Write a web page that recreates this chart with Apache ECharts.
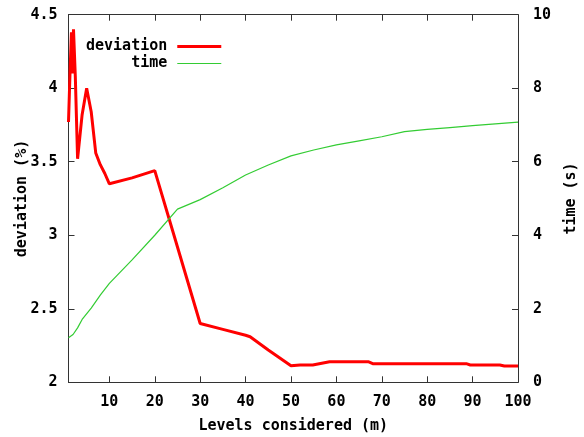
<!DOCTYPE html>
<html>
<head>
<meta charset="utf-8">
<script src="https://cdn.jsdelivr.net/npm/echarts@6/dist/echarts.min.js"></script>
<style>html,body{margin:0;padding:0;background:#fff;}#c{width:584px;height:437px;}</style>
</head>
<body>
<div id="c"></div>
<script>
// Deviation (%) vs levels considered
var devN   = [1, 1.35, 1.65, 1.85, 2.1, 2.5, 3, 4, 5, 6, 7, 8, 9, 10, 15, 20, 25, 30, 35, 40, 41, 45, 50, 52, 54.8, 58.5, 67, 68, 88.6, 89.5, 96, 97, 100];
var devVal = [3.77, 4.12, 4.38, 4.1, 4.40, 4.08, 3.52, 3.82, 4.0, 3.84, 3.56, 3.48, 3.42, 3.35, 3.39, 3.44, 2.92, 2.40, 2.36, 2.32, 2.31, 2.22, 2.113, 2.118, 2.118, 2.14, 2.14, 2.127, 2.127, 2.118, 2.118, 2.111, 2.111];
// Time (s) vs levels considered
var timeN   = [1, 2, 3, 4, 6, 8, 10, 15, 20, 25, 30, 35, 40, 45, 50, 55, 60, 65, 70, 75, 80, 85, 90, 95, 100];
var timeVal = [1.21, 1.3, 1.48, 1.71, 2.02, 2.37, 2.69, 3.33, 4.0, 4.71, 4.97, 5.29, 5.64, 5.91, 6.16, 6.32, 6.46, 6.57, 6.68, 6.82, 6.88, 6.93, 6.98, 7.03, 7.08];
// Tick labels
var xTicks = [10, 20, 30, 40, 50, 60, 70, 80, 90, 100];
var seriesNames = ['deviation', 'time'];

function pairs(xs, ys) { return xs.map(function (x, i) { return [x, ys[i]]; }); }

var FONT = 'DejaVu Sans Mono';
var lab = { fontFamily: FONT, fontWeight: 'bold', fontSize: 15, color: '#000' };
var axLine = { show: true, lineStyle: { color: '#333', width: 1 } };

var chart = echarts.init(document.getElementById('c'), null, { renderer: 'canvas' });
chart.setOption({
  animation: false,
  backgroundColor: '#fff',
  grid: { left: 68.5, right: 66, top: 14.7, bottom: 54.7, containLabel: false, outerBoundsMode: 'none' },
  legend: {
    data: [
      { name: seriesNames[0], icon: 'path://M0,0 L44,0 L44,3 L0,3 Z' },
      { name: seriesNames[1], icon: 'path://M0,0 L44,0 L44,1 L0,1 Z' }
    ],
    orient: 'vertical',
    align: 'right',
    left: 81,
    top: 34,
    itemWidth: 44,
    itemHeight: 14,
    itemGap: 2,
    textStyle: { fontFamily: FONT, fontWeight: 'bold', fontSize: 15, color: '#000', padding: [0, 5, 0, 0] }
  },
  xAxis: [
    {
      type: 'value', min: 1, max: 100, position: 'bottom',
      name: 'Levels considered (m)', nameLocation: 'middle', nameGap: 36, nameMoveOverlap: false,
      nameTextStyle: lab,
      axisLine: axLine,
      axisTick: { inside: true, length: 6, customValues: xTicks, lineStyle: { color: '#333' } },
      axisLabel: Object.assign({ margin: 12, customValues: xTicks }, lab),
      splitLine: { show: false }
    },
    {
      type: 'value', min: 1, max: 100, position: 'top',
      axisLine: axLine,
      axisTick: { inside: true, length: 6, customValues: xTicks, lineStyle: { color: '#333' } },
      axisLabel: { show: false },
      splitLine: { show: false }
    }
  ],
  yAxis: [
    {
      type: 'value', min: 2, max: 4.5, interval: 0.5, position: 'left',
      name: 'deviation (%)', nameLocation: 'middle', nameRotate: 90, nameGap: 39, nameMoveOverlap: false,
      nameTextStyle: lab,
      axisLine: axLine,
      axisTick: { inside: true, length: 6, lineStyle: { color: '#333' } },
      axisLabel: Object.assign({ margin: 11 }, lab),
      splitLine: { show: false }
    },
    {
      type: 'value', min: 0, max: 10, interval: 2, position: 'right',
      name: 'time (s)', nameLocation: 'middle', nameRotate: 90, nameGap: 46, nameMoveOverlap: false,
      nameTextStyle: lab,
      axisLine: axLine,
      axisTick: { inside: true, length: 6, lineStyle: { color: '#333' } },
      axisLabel: Object.assign({ margin: 15 }, lab),
      splitLine: { show: false }
    }
  ],
  series: [
    {
      name: seriesNames[0], type: 'line', xAxisIndex: 0, yAxisIndex: 0,
      data: pairs(devN, devVal), showSymbol: false, symbol: 'none',
      lineStyle: { color: '#ff0000', width: 3 }, itemStyle: { color: '#ff0000' }
    },
    {
      name: seriesNames[1], type: 'line', xAxisIndex: 0, yAxisIndex: 1,
      data: pairs(timeN, timeVal), showSymbol: false, symbol: 'none',
      lineStyle: { color: '#33cc33', width: 1.2 }, itemStyle: { color: '#33cc33' }
    }
  ]
});
</script>
</body>
</html>
